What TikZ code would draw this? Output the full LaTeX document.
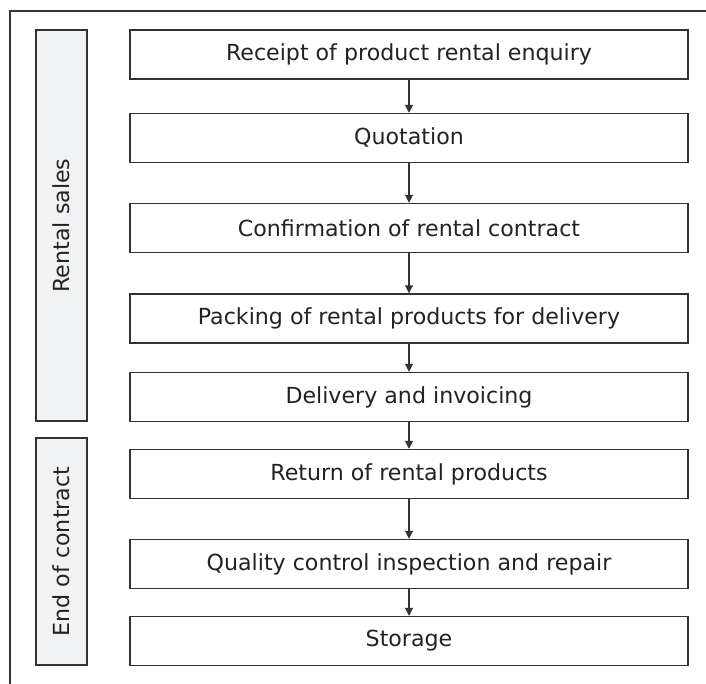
\documentclass[tikz,border=0pt]{standalone}
\usepackage{fontspec}
\setmainfont{DejaVu Sans}
\usetikzlibrary{positioning, arrows.meta}

\definecolor{linegray}{HTML}{333333}
\definecolor{phasefill}{HTML}{F1F2F4}
\definecolor{textgray}{HTML}{222222}

\tikzset{
  stepbox/.style={draw=linegray, line width=1.1pt, rectangle, minimum width=558*0.75pt, minimum height=49*0.75pt, inner sep=0pt, text=textgray},
  phasebox/.style={draw=linegray, line width=1.1pt, fill=phasefill, rectangle, minimum width=51*0.75pt, inner sep=0pt, text=textgray},
  flow/.style={-{Triangle[length=6pt, width=6pt]}, draw=linegray, line width=0.8pt}
}

\begin{document}
\begin{tikzpicture}[x=0.75pt, y=-0.75pt, font=\fontsize{16.6}{19}\selectfont]
\useasboundingbox (0,0) rectangle (706,684);
\draw[linegray, line width=1.1pt] (706,11) -- (10,11) -- (10,684);
% phases
\node[phasebox, minimum height=391*0.75pt] (P1) at (61.5,225.5) {};
\node[rotate=90, text=textgray] at (P1.center) {Rental sales};
\node[phasebox, minimum height=227*0.75pt] (P2) at (61.5,551.5) {};
\node[rotate=90, text=textgray] at (P2.center) {End of contract};
% steps
\node[stepbox] (S1) at (409,54.5) {Receipt of product rental enquiry};
\node[stepbox] (S2) at (409,138) {Quotation};
\node[stepbox] (S3) at (409,228) {Confirmation of rental contract};
\node[stepbox] (S4) at (409,318.5) {Packing of rental products for delivery};
\node[stepbox] (S5) at (409,397) {Delivery and invoicing};
\node[stepbox] (S6) at (409,474) {Return of rental products};
\node[stepbox] (S7) at (409,564) {Quality control inspection and repair};
\node[stepbox] (S8) at (409,641) {Storage};
\foreach \a/\b in {S1/S2, S2/S3, S3/S4, S4/S5, S5/S6, S6/S7, S7/S8}
  \draw[flow] (\a) -- (\b);
\end{tikzpicture}
\end{document}
